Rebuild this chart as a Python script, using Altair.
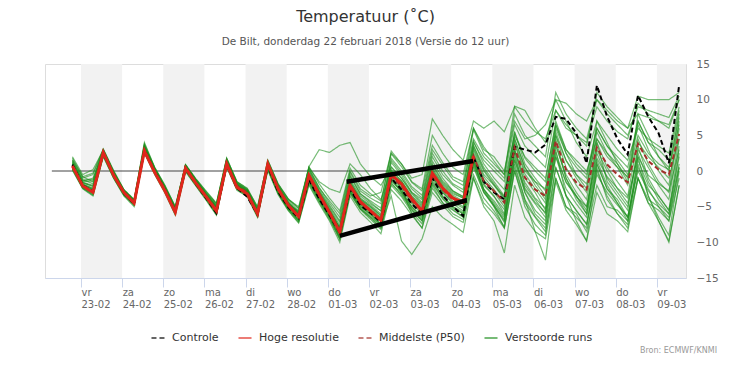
import altair as alt
import pandas as pd

# ---------------- data ----------------
# 6-hourly steps from 22-02 19h to 09-03 13h (60 steps)
time_steps = [t.strftime("%Y-%m-%dT%H:%M:%SZ")
              for t in pd.date_range("2018-02-22 19:00", periods=60, freq="6h")]

hres = [0.7,
 -2.1,-3.0,2.6,-0.6, -3.0,-4.5,2.8,-0.2, -2.8,-5.8,0.4,-1.7, -3.6,-5.6,1.0,-2.3,
 -3.2,-6.0,1.0,-2.5, -4.8,-6.4,-0.6,-3.3, -5.8,-8.6,-2.0,-4.3, -5.6,-6.9,-0.5,-1.8,
 -3.9,-5.6,-0.3,-2.4, -3.8,-4.4,2.1]

median = [0.7,
 -2.1,-2.8,2.6,-0.5, -3.0,-4.4,3.0,0.0, -2.6,-5.6,0.5,-1.6, -3.5,-5.4,1.2,-2.1,
 -3.0,-5.9,0.9,-2.6, -4.9,-6.3,-0.9,-3.5, -5.9,-8.4,-2.2,-4.5, -5.6,-6.8,-0.7,-2.1,
 -4.2,-5.6,-0.5,-2.6, -4.0,-4.5,2.1,-1.4, -2.8,-4.4,3.3,-0.9, -2.6,-3.5,4.2,0.2,
 -1.6,-2.6,3.3,0.9, -0.5,-1.6,3.8,1.4, 0.2,-0.5,5.2]

control = [0.9,
 -2.0,-2.9,2.5,-0.6, -3.1,-4.6,2.9,-0.1, -2.7,-5.7,0.3,-1.8, -3.8,-5.9,0.9,-2.4,
 -3.6,-6.1,0.7,-2.9, -5.1,-6.6,-1.2,-3.9, -6.2,-8.7,-2.6,-4.8, -5.9,-7.2,-1.0,-2.6,
 -4.6,-6.0,-1.0,-3.4, -5.0,-6.3,2.0,-1.5, -3.0,-4.0,3.4,3.0, 2.6,3.7,7.6,7.3,
 5.3,1.1,12.0,7.6, 4.5,2.3,10.6,7.6, 5.3,1.1,12.0]

m01 = [1.0, -1.8,-2.5,2.8,-0.3, -2.8,-4.2,3.3,0.2, -2.4,-5.3,0.7,-1.4, -3.3,-5.1,1.4,-1.9,
 -2.8,-5.6,1.2,-2.2, -4.5,-6.0,-0.5,-3.0, -5.4,-7.9,-1.6,-4.0, -5.0,-6.2,0.2,-1.4,
 -3.6,-5.0,0.4,-1.8, -3.2,-3.8,3.0,-0.5, -2.0,-3.6,4.5,0.5, -1.5,-2.5,5.5,1.5,
 -0.5,-1.8,4.5,2.0, 0.5,-0.8,5.0,2.5, 1.0,0.2,6.5]
m02 = [0.4, -2.3,-3.2,2.3,-0.8, -3.3,-4.7,2.7,-0.3, -2.9,-5.9,0.2,-1.9, -3.8,-5.8,0.8,-2.5,
 -3.4,-6.3,0.4,-3.0, -5.3,-6.8,-1.4,-4.0, -6.4,-9.2,-2.8,-5.0, -6.2,-7.6,-1.4,-2.8,
 -5.0,-6.6,-1.4,-3.5, -5.0,-5.8,1.0,-2.6, -4.2,-6.2,2.0,-2.4, -4.4,-5.8,2.6,-1.6,
 -3.6,-5.0,1.8,-0.8, -2.4,-3.8,2.0,-0.6, -1.8,-2.8,3.0]
m03 = [2.0, -0.5,0.2,2.9,-0.2, -2.7,-4.1,3.6,0.4, -2.2,-5.1,0.8,-1.2, -3.0,-4.6,1.6,-1.6,
 -2.6,-5.4,1.3,-2.0, -4.2,-5.6,0.1,-2.6, -4.8,-7.0,-0.6,-3.2, -4.4,-5.6,1.2,-0.6,
 -3.0,-4.4,1.4,-1.0, -2.8,-3.6,4.2,1.0, -1.0,-2.6,5.4,1.8, 0.0,-1.5,7.0,3.0,
 1.0,-0.5,6.0,3.5, 2.0,0.5,7.0,4.0, 3.0,1.5,8.5]
m04 = [0.2, -2.4,-3.4,2.1,-1.0, -3.4,-4.8,2.6,-0.4, -3.0,-6.1,0.0,-2.0, -4.0,-6.1,0.6,-2.6,
 -3.5,-6.4,0.2,-3.2, -5.5,-7.2,-1.8,-4.4, -6.8,-9.6,-3.2,-5.4, -6.8,-8.2,-2.0,-3.6,
 -5.8,-7.4,-2.4,-4.4, -6.0,-6.8,-0.5,-3.8, -5.6,-7.8,0.5,-4.0, -6.4,-8.0,0.5,-3.4,
 -5.6,-7.4,-0.5,-3.0, -4.8,-6.4,0.0,-2.8, -4.6,-6.0,1.0]
m05 = [1.2, -1.2,-1.8,2.9,-0.2, -2.9,-4.3,3.4,0.2, -2.4,-5.3,0.8,-1.2, -3.1,-4.8,1.6,-1.7,
 -2.6,-5.2,1.5,-1.8, -3.9,-5.2,0.6,-1.8, -3.8,-5.6,0.4,-2.0, -3.2,-4.2,2.4,0.6,
 -1.6,-2.8,3.6,1.2, -0.8,-1.5,6.0,3.4, 1.4,-0.5,8.0,5.0, 3.5,2.0,11.0,8.0,
 6.0,4.5,10.0,8.0, 6.5,5.0,9.0,8.5, 8.0,7.5,10.5]
m06 = [0.9, -1.6,-2.2,2.7,-0.4, -3.0,-4.4,3.1,0.0, -2.6,-5.5,0.6,-1.5, -3.4,-5.2,1.3,-2.0,
 -3.0,-5.8,1.0,-2.4, -4.6,-5.8,0.6,3.0, 2.6,3.6,4.0,1.0, -0.8,-2.0,0.5,-1.0,
 -3.0,-4.0,2.0,-0.5, -2.0,-3.0,4.0,1.5, 0.0,-1.5,5.0,2.0, 0.5,-1.0,6.5,3.0,
 1.5,0.0,4.5,2.5, 1.0,-1.0,4.0,2.0, 0.5,-1.0,4.5]
m07 = [0.6, -2.0,-2.6,2.5,-0.6, -3.1,-4.5,2.9,-0.1, -2.7,-5.7,0.4,-1.7, -3.6,-5.5,1.1,-2.2,
 -3.1,-6.0,0.7,-2.7, -4.7,-5.6,0.5,-1.5, -2.5,-3.0,1.0,-0.5, -2.5,-4.0,0.0,-2.5,
 -6.0,-8.0,-2.0,-4.5, -5.5,-6.5,1.5,-2.5, -4.5,-6.5,1.5,-3.0, -6.0,-7.5,2.0,-1.5,
 -3.5,-5.5,2.5,-1.0, -3.0,-5.0,2.5,-1.5, -4.0,-6.0,2.5]
m08 = [0.5, -2.2,-2.9,2.4,-0.7, -3.2,-4.6,2.8,-0.2, -2.8,-5.8,0.3,-1.8, -3.7,-5.7,1.0,-2.3,
 -3.2,-6.2,0.6,-2.8, -5.0,-6.6,-1.2,-3.8, -6.2,-9.0,-2.6,-5.2, -6.4,-7.6,-3.5,-9.8,
 -11.7,-9.5,-5.0,-6.5, -7.5,-8.6,-1.0,-5.0, -7.0,-11.5,-2.0,-6.5, -8.5,-9.5,-1.5,-5.5,
 -7.5,-9.8,-3.0,-6.0, -7.0,-8.5,-1.0,-4.5, -7.0,-9.8,-2.0]
m09 = [1.5, -1.0,-0.5,3.0,0.0, -2.6,-4.0,3.8,0.5, -2.0,-5.0,0.9,-1.1, -2.8,-4.5,1.8,-1.5,
 -2.5,-5.0,1.4,-1.9, -4.0,-5.0,0.4,-2.4, -4.2,-6.0,0.0,-2.5, -3.5,-3.0,2.5,1.0,
 -1.0,-0.5,7.3,5.0, 3.0,1.5,7.0,6.0, 7.0,5.5,9.0,7.0, 5.5,4.5,8.5,6.5,
 5.0,4.0,9.0,7.0, 5.5,4.5,9.5,8.0, 7.0,6.0,10.0]
m10 = [0.3, -2.3,-3.1,2.2,-0.9, -3.3,-4.7,2.6,-0.3, -2.9,-6.0,0.1,-2.0, -3.9,-6.0,0.7,-2.5,
 -3.4,-6.3,0.3,-3.1, -5.4,-7.0,-1.6,-4.2, -6.6,-9.4,-3.0,-5.3, -6.5,-7.9,-1.8,-3.2,
 -5.4,-7.0,-1.6,-3.8, -5.2,-6.0,0.5,-3.0, -5.0,-7.0,1.0,-4.0, -8.5,-12.5,-1.0,-5.0,
 -6.5,-8.0,1.0,-2.5, -4.0,-6.5,0.5,-2.5, -5.0,-7.0,0.5]
m11 = [1.3, -1.4,-1.0,2.8,-0.2, -2.8,-4.2,3.5,0.3, -2.3,-5.2,0.8,-1.3, -3.2,-4.9,1.5,-1.8,
 -2.7,-5.4,1.2,-2.1, -4.4,-5.9,-0.3,-2.9, -5.2,-7.6,-1.2,-3.5, -4.6,-5.6,1.5,-0.3,
 -2.5,-3.8,2.5,0.0, -1.8,-2.6,5.8,2.5, 1.0,-0.5,9.1,8.5, 6.0,4.0,10.0,7.0,
 4.0,2.0,7.0,5.0, 3.0,1.5,6.0,4.5, 3.5,2.5,9.0]
m12 = [0.8, -1.9,-2.7,2.6,-0.5, -3.0,-4.4,3.0,0.0, -2.6,-5.6,0.5,-1.6, -3.5,-5.3,1.2,-2.1,
 -3.0,-5.9,0.9,-2.6, -4.9,-6.4,-1.0,-3.7, -6.0,-8.8,-2.4,-4.8, -6.0,-7.4,-1.2,-3.0,
 -5.0,-6.4,-0.8,-3.0, -4.6,-5.6,1.2,-2.6, -4.8,-7.2,2.5,-3.0, -5.5,-7.0,3.0,-3.5,
 -7.0,-9.8,0.5,-4.0, -6.0,-7.5,1.0,-3.5, -6.5,-9.0,0.0]
m13 = [1.1, -1.5,-1.4,2.7,-0.3, -2.9,-4.3,3.2,0.1, -2.5,-5.4,0.6,-1.5, -3.4,-5.2,1.3,-2.0,
 -2.9,-5.7,1.0,-2.4, -4.6,-6.1,-0.6,-3.2, -5.6,-8.1,-1.8,-4.1, -5.2,-6.5,-0.2,-1.6,
 -3.8,-5.2,0.2,-2.0, -3.4,-4.2,3.5,0.2, -1.8,-3.8,5.5,1.0, -1.0,-2.8,6.5,2.5,
 0.5,-1.0,6.0,3.5, 1.5,-0.5,7.0,4.0, 2.0,0.5,7.5]
m14 = [0.6, -2.2,-3.0,2.4,-0.7, -3.2,-4.6,2.8,-0.2, -2.8,-5.8,0.3,-1.8, -3.7,-5.8,1.0,-2.3,
 -3.3,-6.2,0.6,-2.9, -5.2,-6.9,-1.3,-4.1, -6.5,-9.5,-3.0,-5.3, -6.6,-8.0,-1.6,-3.4,
 -5.5,-7.0,-1.8,-3.9, -5.4,-6.4,0.8,-3.0, -4.8,-6.8,1.6,-2.6, -4.6,-6.5,2.0,-2.5,
 -4.6,-6.5,1.0,-2.5, -4.5,-6.5,1.5,-2.0, -3.5,-5.5,2.0]
m15 = [0.9, -1.7,-2.1,2.6,-0.4, -2.9,-4.3,3.1,0.1, -2.5,-5.5,0.6,-1.5, -3.4,-5.3,1.3,-2.0,
 -2.9,-5.8,1.0,-2.5, -4.8,-6.2,-0.7,-3.3, -5.7,-8.2,-1.9,-4.2, -5.4,-6.6,-0.4,-2.0,
 -4.0,-5.4,0.0,-2.2, -3.6,-4.4,2.6,-0.8, -2.6,-4.6,3.8,-0.4, -2.5,-4.5,5.0,0.5,
 -2.0,-4.0,4.0,0.5, -1.5,-3.5,4.5,1.0, -1.5,-3.0,6.0]
m16 = [1.4, -1.3,-1.2,3.0,-0.1, -2.7,-4.1,3.7,0.4, -2.2,-5.2,0.8,-1.3, -3.2,-4.9,1.7,-1.7,
 -2.7,-5.5,1.2,-2.1, -4.4,-5.8,0.0,-2.8, -5.0,-7.2,-0.8,-3.2, -4.2,-5.2,1.8,0.0,
 -2.2,-3.4,3.0,0.8, -1.2,-2.0,4.5,2.0, 0.5,-1.0,6.5,3.5, 2.0,0.5,8.5,6.0,
 5.0,3.5,11.0,9.0, 7.5,6.0,10.5,10.0, 10.0,10.0,11.0]
m17 = [0.4, -2.4,-3.3,2.3,-0.8, -3.3,-4.8,2.7,-0.3, -2.9,-5.9,0.2,-1.9, -3.8,-5.9,0.8,-2.4,
 -3.3,-6.3,0.5,-3.0, -5.3,-7.0,-1.5,-4.1, -6.4,-9.3,-2.8,-5.0, -6.0,-7.5,-1.0,-3.0,
 -5.2,-6.8,-1.0,-3.6, -5.0,-6.0,1.5,-2.8, -5.0,-8.0,0.0,-5.0, -7.5,-9.0,0.5,-3.5,
 -5.5,-7.5,0.0,-3.5, -6.0,-8.0,-1.0,-4.5, -5.5,-7.0,-1.0]
m18 = [0.7, -2.0,-2.6,2.6,-0.5, -3.0,-4.5,3.0,0.0, -2.6,-5.6,0.5,-1.6, -3.5,-5.4,1.2,-2.1,
 -3.0,-5.9,0.9,-2.6, -4.8,-6.3,-0.8,-3.4, -5.8,-8.4,-2.1,-4.4, -5.5,-6.7,-0.6,-2.0,
 -4.1,-5.5,-0.3,-2.4, -3.8,-4.6,2.3,-1.2, -3.0,-5.0,3.0,-1.0, -3.0,-5.5,3.5,-0.5,
 -3.0,-5.0,3.0,0.0, -2.5,-4.5,3.0,0.5, -2.0,-4.0,4.5]
m19 = [1.6, -0.8,-0.3,3.1,0.1, -2.6,-4.0,4.0,0.5, -2.1,-5.0,0.9,-1.1, -2.9,-4.6,1.8,-1.5,
 -2.4,-5.1,1.5,-1.8, -4.0,-5.3,0.3,-2.3, -4.5,-6.5,-0.2,-2.8, -3.8,-4.6,2.8,1.0,
 -1.5,-2.5,5.0,2.5, 0.5,-0.5,6.0,3.0, 2.0,0.0,7.0,4.5, 5.0,6.5,10.0,9.5,
 8.0,7.0,10.0,8.5, 7.0,6.0,8.0,7.5, 7.0,6.5,10.0]
m20 = [0.5, -2.1,-2.9,2.5,-0.6, -3.1,-4.6,2.9,-0.1, -2.7,-5.7,0.4,-1.7, -3.6,-5.6,1.1,-2.2,
 -3.1,-6.0,0.8,-2.7, -5.0,-6.5,-1.1,-3.6, -6.0,-8.6,-2.4,-4.7, -5.8,-7.1,-1.0,-2.6,
 -4.6,-6.0,-0.8,-3.0, -4.4,-5.2,1.6,-2.0, -3.6,-5.4,2.8,-1.6, -3.8,-5.2,3.8,-1.0,
 -3.5,-6.0,1.5,-2.0, -4.5,-7.0,2.0,-3.5, -7.0,-10.0,-2.0]
m21 = [0.8, -1.9,-2.4,2.7,-0.4, -2.9,-4.4,3.1,0.0, -2.6,-5.6,0.5,-1.6, -3.4,-5.3,1.2,-2.1,
 -3.0,-5.9,0.9,-2.6, -4.9,-6.4,-1.0,-3.5, -6.0,-8.6,-2.3,-4.6, -5.7,-6.9,-0.8,-2.3,
 -4.4,-5.8,-0.6,-2.8, -4.2,-5.0,1.8,-1.8, -3.5,-6.0,3.0,-2.0, -4.0,-6.0,4.5,-1.0,
 -4.0,-6.0,4.0,-1.5, -3.5,-5.5,3.5,-1.0, -3.5,-5.5,3.5]
m22 = [1.8, -0.8,-1.5,2.9,-0.1, -2.8,-4.2,3.4,0.2, -2.4,-5.4,0.7,-1.4, -3.3,-5.0,1.4,-1.9,
 -2.8,-5.6,1.1,-2.3, -4.6,-6.0,-0.4,-3.0, -5.5,-8.0,-1.4,-3.8, -4.8,-6.0,0.6,-1.0,
 -3.2,-4.6,1.0,-1.4, -2.8,-3.6,3.6,0.5, -1.5,-3.5,4.5,0.5, -2.0,-4.0,6.0,2.5,
 -0.5,-2.5,7.0,4.0, 1.0,-1.5,6.5,3.0, 0.0,-2.0,7.0]
m23 = [0.1, -2.5,-3.5,2.0,-1.0, -3.5,-5.0,2.5,-0.5, -3.1,-6.2,-0.1,-2.1, -4.1,-6.2,0.5,-2.7,
 -3.6,-6.5,0.1,-3.3, -5.6,-7.3,-2.0,-4.6, -7.0,-10.0,-3.5,-5.8, -7.2,-8.8,-2.6,-4.2,
 -6.2,-8.0,-3.0,-4.8, -6.4,-7.2,-1.0,-4.5, -6.0,-8.0,0.0,-4.5, -6.5,-8.5,-1.0,-5.0,
 -6.0,-8.5,-2.0,-5.0, -5.5,-7.0,-1.0,-4.0, -5.0,-6.5,0.5]
m24 = [1.0, -1.6,-2.0,2.8,-0.3, -2.8,-4.3,3.2,0.1, -2.5,-5.4,0.6,-1.5, -3.3,-5.1,1.4,-1.9,
 -2.9,-5.7,1.0,-2.4, -4.7,-6.1,-0.6,-3.2, -5.6,-8.0,-1.6,-3.9, -5.0,-6.3,0.0,-1.4,
 -3.5,-4.8,0.8,-1.6, -3.0,-3.8,3.2,0.0, -2.0,-4.0,4.0,0.0, -1.5,-3.5,5.0,1.5,
 -1.0,-3.0,5.5,2.5, 0.5,-2.0,8.0,5.0, 2.0,0.0,8.0]

members = [m01, m02, m03, m04, m05, m06, m07, m08, m09, m10, m11, m12,
           m13, m14, m15, m16, m17, m18, m19, m20, m21, m22, m23, m24]

kinds = ["Controle", "Hoge resolutie", "Middelste (P50)", "Verstoorde runs"]
kind_colors = ["#000000", "#e0261c", "#a3302a", "#1d8f1d"]
kind_dash = [[5, 3], [1, 0], [5, 3], [1, 0]]

# alternating grey day bands
band_start = ["2018-02-23", "2018-02-25", "2018-02-27", "2018-03-01",
              "2018-03-03", "2018-03-05", "2018-03-07", "2018-03-09"]
band_end = ["2018-02-24", "2018-02-26", "2018-02-28", "2018-03-02",
            "2018-03-04", "2018-03-06", "2018-03-08", "2018-03-10"]

# thick hand-drawn black annotation lines
annot_id = ["top", "top", "bottom", "bottom"]
annot_t = ["2018-03-01T11:00:00Z", "2018-03-04T12:50:00Z",
           "2018-03-01T07:00:00Z", "2018-03-04T09:00:00Z"]
annot_v = [-1.5, 1.4, -9.1, -4.1]

zero_t = ["2018-02-22T07:00:00Z", "2018-03-08T19:00:00Z"]

y_ticks = [-15, -10, -5, 0, 5, 10, 15]

# ---------------- tables ----------------
rows = []
for i, m in enumerate(members):
    for t, v in zip(time_steps, m):
        rows.append({"t": t, "v": v, "member": f"m{i+1:02d}", "kind": "Verstoorde runs"})
df_members = pd.DataFrame(rows)
df_control = pd.DataFrame({"t": time_steps[:len(control)], "v": control, "kind": "Controle"})
df_median = pd.DataFrame({"t": time_steps[:len(median)], "v": median, "kind": "Middelste (P50)"})
df_hres = pd.DataFrame({"t": time_steps[:len(hres)], "v": hres, "kind": "Hoge resolutie"})
df_bands = pd.DataFrame({"s": [d + "T00:00:00Z" for d in band_start],
                         "e": [d + "T00:00:00Z" for d in band_end]})
df_annot = pd.DataFrame({"t": annot_t, "v": annot_v, "id": annot_id})
df_zero = pd.DataFrame({"s": [zero_t[0]], "e": [zero_t[1]], "v": [0]})

FONT = "DejaVu Sans"
W, H = 641, 214

x_scale = alt.Scale(type="utc",
                    domain=[alt.DateTime(year=2018, month=2, date=22, hours=3, utc=True),
                            alt.DateTime(year=2018, month=3, date=9, hours=17, utc=True)])
tick_vals = [alt.DateTime(year=d.year, month=d.month, date=d.day, utc=True)
             for d in pd.date_range("2018-02-23", "2018-03-09", freq="D")]
x_axis = alt.Axis(values=tick_vals, title=None, grid=False,
                  labelExpr="[['zo','ma','di','wo','do','vr','za'][utcday(datum.value)], utcFormat(datum.value, '%d-%m')]",
                  labelAlign="left", labelBaseline="top", labelPadding=0,
                  labelLineHeight=12, labelFont=FONT, labelFontSize=10, labelColor="#666666",
                  labelFlush=False, labelOverlap=False,
                  domainColor="#ccd6eb", tickColor="#ccd6eb", tickSize=9)
y_scale = alt.Scale(domain=[-15, 15], nice=False, zero=False)
y_axis = alt.Axis(values=y_ticks, title=None, domain=False, ticks=False,
                  gridColor="#e6e6e6", labelFont=FONT, labelFontSize=10.5,
                  labelColor="#666666", labelPadding=12)

legend_kw = dict(title=None, orient="none", legendX=105, legendY=266,
                 direction="horizontal", symbolType="stroke",
                 symbolStrokeWidth=2, symbolSize=170,
                 labelFont=FONT, labelFontSize=11, labelColor="#333333",
                 labelOffset=6, columnPadding=15)
color_enc = alt.Color("kind:N", scale=alt.Scale(domain=kinds, range=kind_colors),
                      legend=alt.Legend(**legend_kw))
dash_enc = alt.StrokeDash("kind:N", scale=alt.Scale(domain=kinds, range=kind_dash),
                          legend=alt.Legend(**legend_kw))

bands = alt.Chart(df_bands).mark_rect(color="#f2f2f2", clip=True).encode(
    x=alt.X("s:T", scale=x_scale, axis=x_axis), x2="e:T",
    y=alt.value(0), y2=alt.value(H))

grid_holder = alt.Chart(df_zero).mark_point(opacity=0).encode(
    y=alt.Y("v:Q", scale=y_scale, axis=y_axis))

zero_line = alt.Chart(df_zero).mark_rule(color="#444444", strokeWidth=1).encode(
    x="s:T", x2="e:T", y=alt.Y("v:Q", axis=None))

ens = alt.Chart(df_members).mark_line(strokeWidth=1.2, opacity=0.6, clip=True).encode(
    x="t:T", y=alt.Y("v:Q", axis=None), detail="member:N",
    color=color_enc, strokeDash=dash_enc)

ctrl = alt.Chart(df_control).mark_line(strokeWidth=2, clip=True).encode(
    x="t:T", y=alt.Y("v:Q", axis=None), color="kind:N", strokeDash="kind:N")
med = alt.Chart(df_median).mark_line(strokeWidth=2, clip=True).encode(
    x="t:T", y=alt.Y("v:Q", axis=None), color="kind:N", strokeDash="kind:N")
hr = alt.Chart(df_hres).mark_line(strokeWidth=3, clip=True).encode(
    x="t:T", y=alt.Y("v:Q", axis=None), color="kind:N", strokeDash="kind:N")

annot = alt.Chart(df_annot).mark_line(color="black", strokeWidth=4.5).encode(
    x="t:T", y=alt.Y("v:Q", axis=None), detail="id:N")

source = alt.Chart(pd.DataFrame({"txt": ["Bron: ECMWF/KNMI"]})).mark_text(
    align="right", baseline="middle", font=FONT, fontSize=8, color="#999999").encode(
    x=alt.value(W + 31), y=alt.value(H + 73), text="txt:N")

main = alt.layer(bands, grid_holder, zero_line, ens, ctrl, med, hr, annot, source)

right_axis = alt.Chart(df_zero).mark_point(opacity=0).encode(
    y=alt.Y("v:Q", scale=y_scale,
            axis=alt.Axis(orient="right", values=y_ticks, title=None, grid=False,
                          domain=False, ticks=False, labelFont=FONT, labelFontSize=10.5,
                          labelColor="#666666", labelPadding=10)))

chart = alt.layer(main, right_axis).resolve_scale(y="independent").properties(
    width=W, height=H,
    autosize=alt.AutoSizeParams(type="none"),
    padding={"left": 37, "top": 56, "right": 38, "bottom": 80},
    title=alt.TitleParams(text="Temperatuur (˚C)",
                          subtitle="De Bilt, donderdag 22 februari 2018 (Versie do 12 uur)",
                          font=FONT, fontSize=16, fontWeight="normal", color="#333333",
                          subtitleFont=FONT, subtitleFontSize=10.5, subtitleColor="#555555",
                          anchor="middle", offset=12, subtitlePadding=12),
).configure_view(stroke=None).configure(background="white")

chart.save("out.html", embed_options={"renderer": "svg", "actions": False})
